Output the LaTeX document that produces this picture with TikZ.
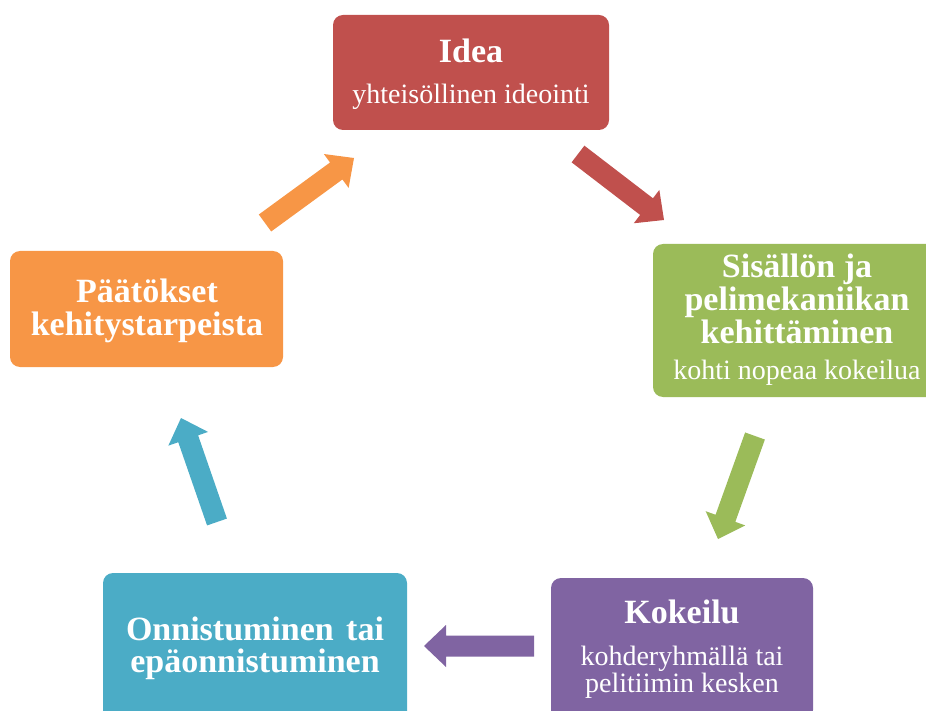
\documentclass[tikz,border=0pt]{standalone}
\usepackage{fontspec}
\setmainfont{Liberation Serif}
\usetikzlibrary{calc}
\definecolor{cred}{HTML}{C0504D}
\definecolor{cgreen}{HTML}{9BBB59}
\definecolor{cpurple}{HTML}{8064A2}
\definecolor{cteal}{HTML}{4BACC6}
\definecolor{corange}{HTML}{F79646}
\tikzset{
  box/.style={fill=#1, rounded corners=10pt, inner sep=0pt},
  ttl/.style={text=white, font=\fontsize{34}{34}\selectfont\bfseries, anchor=base, inner sep=0pt},
  subt/.style={text=white, font=\fontsize{28}{28}\selectfont, anchor=base, inner sep=0pt},
}
\newcommand\blockarr[3]{%
  \coordinate (bb) at ($(#3)!22pt!(#2)$);
  \fill[#1] ($(#2)!10.5pt!90:(#3)$) -- ($(bb)!10.5pt!90:(#3)$) -- ($(bb)!21pt!90:(#3)$) -- (#3)
    -- ($(bb)!21pt!-90:(#3)$) -- ($(bb)!10.5pt!-90:(#3)$) -- ($(#2)!10.5pt!-90:(#3)$) -- cycle;}
\begin{document}
\begin{tikzpicture}[x=1pt,y=-1pt]
\useasboundingbox (0,0) rectangle (926,711);
% boxes
\node[box=cred, minimum width=276pt, minimum height=115pt] (idea) at (471,72.5) {};
\node[box=cgreen, minimum width=288pt, minimum height=153pt] (dev) at (797,320.5) {};
\node[box=cpurple, minimum width=262pt, minimum height=142pt] (test) at (682,649) {};
\node[box=cteal, minimum width=304pt, minimum height=151pt] (res) at (255,648.5) {};
\node[box=corange, minimum width=273pt, minimum height=116pt] (dec) at (146.5,309) {};
% texts
\node[ttl] (ideat) at (471,63) {Idea};
\node[subt] (ideas) at (471,104) {yhteisöllinen ideointi};
\node[ttl] (devt1) at (797,277) {Sisällön ja};
\node[ttl] (devt2) at (797,310) {pelimekaniikan};
\node[ttl] (devt3) at (797,343) {kehittäminen};
\node[subt] (devs) at (797,379) {kohti nopeaa kokeilua};
\node[ttl] (testt) at (682,623) {Kokeilu};
\node[subt] (tests1) at (682,665) {kohderyhmällä tai};
\node[subt] (tests2) at (682,692) {pelitiimin kesken};
\node[ttl] (rest1) at (255,640) {\makebox[258pt][s]{Onnistuminen tai}};
\node[ttl] (rest2) at (255,672) {epäonnistuminen};
\node[ttl] (dect1) at (147,302) {Päätökset};
\node[ttl] (dect2) at (147,335) {kehitystarpeista};
% arrows
\coordinate (a1t) at (265,223); \coordinate (a1h) at (354,158);
\coordinate (a2t) at (578,154); \coordinate (a2h) at (664,220);
\coordinate (a3t) at (755,436); \coordinate (a3h) at (718,539);
\coordinate (a4t) at (534,646); \coordinate (a4h) at (424,646);
\coordinate (a5t) at (217,522); \coordinate (a5h) at (181,418);
\blockarr{corange}{a1t}{a1h}
\blockarr{cred}{a2t}{a2h}
\blockarr{cgreen}{a3t}{a3h}
\blockarr{cpurple}{a4t}{a4h}
\blockarr{cteal}{a5t}{a5h}
\end{tikzpicture}
\end{document}
